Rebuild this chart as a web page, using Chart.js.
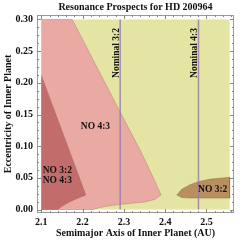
<!DOCTYPE html>
<html><head><meta charset="utf-8">
<script src="https://cdn.jsdelivr.net/npm/chart.js@4/dist/chart.umd.min.js"></script>
<style>html,body{margin:0;padding:0;background:#fff}canvas{display:block}</style>
</head><body><canvas id="c" width="249" height="241"></canvas>
<script>
// ---- data ----
const xTickLabels = [2.1, 2.2, 2.3, 2.4, 2.5];
const yTickLabels = [0, 0.05, 0.10, 0.15, 0.20, 0.25, 0.30];

// whole explored domain (stable-for-both background)
const domainX = [2.1, 2.556, 2.556, 2.1];
const domainY = [0.0, 0.0, 0.30, 0.30];

// "NO 4:3" region
const no43X = [2.1, 2.225, 2.242, 2.265, 2.291, 2.32, 2.351, 2.375, 2.39, 2.37, 2.34, 2.29, 2.175, 2.1];
const no43Y = [0.0, 0.0, 0.003, 0.006, 0.008, 0.010, 0.012, 0.016, 0.023, 0.052, 0.093, 0.155, 0.30, 0.30];

// "NO 3:2 / NO 4:3" region
const no32no43X = [2.1, 2.14, 2.15, 2.168, 2.19, 2.208, 2.1];
const no32no43Y = [0.0, 0.0, 0.005, 0.012, 0.018, 0.023, 0.212];

// "NO 3:2" region (lower right)
const no32X = [2.428, 2.44, 2.46, 2.48, 2.51, 2.556, 2.556, 2.46, 2.44, 2.428];
const no32Y = [0.023, 0.032, 0.039, 0.044, 0.048, 0.051, 0.018, 0.018, 0.019, 0.023];

// nominal resonance locations
const nominalA = [2.291, 2.4806];
const nominalNames = ["Nominal 3:2", "Nominal 4:3"];

const pts = (xs, ys) => xs.map((x, i) => ({x: x, y: ys[i]}));

const SERIF = '"Liberation Serif", "DejaVu Serif", serif';
const edge = 'rgba(140,80,70,0.35)';

const datasets = [
  {data: pts(domainX, domainY), backgroundColor: '#e4e4a3', borderColor: 'rgba(0,0,0,0)', order: 10},
  {data: pts(no43X, no43Y), backgroundColor: '#e8aaa3', borderColor: edge, order: 9},
  {data: pts(no32no43X, no32no43Y), backgroundColor: '#c26d6c', borderColor: edge, order: 8},
  {data: pts(no32X, no32Y), backgroundColor: '#b98f5f', borderColor: 'rgba(120,80,40,0.4)', order: 7}
].map(d => Object.assign({showLine: true, fill: 'shape', pointRadius: 0, borderWidth: 0.8, tension: 0}, d));

nominalA.forEach((a, i) => datasets.push({
  data: [{x: a, y: 0}, {x: a, y: 0.30}], showLine: true, fill: false, pointRadius: 0,
  borderColor: 'rgba(150,125,170,0.85)', borderWidth: 1.5, order: 1
}));

const labels = [
  {text: 'NO 4:3', x: 2.2312, y: 0.1307, align: 'center'},
  {text: 'NO 3:2', x: 2.1034, y: 0.0608, align: 'left'},
  {text: 'NO 4:3', x: 2.1034, y: 0.0458, align: 'left'},
  {text: 'NO 3:2', x: 2.515, y: 0.0308, align: 'center'}
];

const decor = {
  id: 'decor',
  afterDraw(chart) {
    const ctx = chart.ctx, xs = chart.scales.x, ys = chart.scales.y;
    const a = chart.chartArea;
    ctx.save();
    // region labels
    ctx.fillStyle = '#111';
    ctx.font = 'bold 9.5px ' + SERIF;
    ctx.textBaseline = 'middle';
    labels.forEach(l => {
      ctx.textAlign = l.align;
      ctx.fillText(l.text, xs.getPixelForValue(l.x), ys.getPixelForValue(l.y));
    });
    // nominal labels (rotated)
    nominalA.forEach((v, i) => {
      const px = xs.getPixelForValue(v) - 1;
      ctx.save();
      ctx.translate(px, ys.getPixelForValue(0.2865));
      ctx.rotate(-Math.PI / 2);
      ctx.textAlign = 'right';
      ctx.textBaseline = 'alphabetic';
      ctx.fillText(nominalNames[i], 0, 0);
      ctx.restore();
    });
    // frame
    ctx.strokeStyle = '#999';
    ctx.lineWidth = 1;
    ctx.strokeRect(a.left + 0.5, a.top + 0.5, a.right - a.left - 1, a.bottom - a.top - 1);
    // ticks (inward, all four sides)
    ctx.strokeStyle = '#888';
    ctx.beginPath();
    const xt = (v, len) => {
      const p = Math.round(xs.getPixelForValue(v)) + 0.5;
      ctx.moveTo(p, a.bottom); ctx.lineTo(p, a.bottom - len);
      ctx.moveTo(p, a.top); ctx.lineTo(p, a.top + len);
    };
    const yt = (v, len) => {
      const p = Math.round(ys.getPixelForValue(v)) + 0.5;
      ctx.moveTo(a.left, p); ctx.lineTo(a.left + len, p);
      ctx.moveTo(a.right, p); ctx.lineTo(a.right - len, p);
    };
    for (let k = 0; k <= 23; k++) { const v = 2.1 + k * 0.02; if (v <= xs.max) xt(v, k % 5 === 0 ? 4 : 2); }
    for (let k = 0; k <= 24; k++) { const v = k * 0.0125; yt(v, k % 4 === 0 ? 4 : 2); }
    ctx.stroke();
    // title
    ctx.fillStyle = '#111';
    ctx.font = 'bold 10px ' + SERIF;
    ctx.textAlign = 'center';
    ctx.textBaseline = 'alphabetic';
    ctx.fillText('Resonance Prospects for HD 200964', (a.left + a.right) / 2, 10);
    ctx.restore();
  }
};

const tickFont = {family: SERIF, size: 10, weight: 'bold'};

new Chart(document.getElementById('c'), {
  type: 'scatter',
  data: {datasets: datasets},
  options: {
    responsive: false, animation: false, devicePixelRatio: 1,
    layout: {padding: {top: 15, right: 15, left: 0, bottom: 0}},
    plugins: {legend: {display: false}, tooltip: {enabled: false}},
    scales: {
      x: {
        type: 'linear', min: 2.0896, max: 2.5666,
        grid: {display: false, drawTicks: false}, border: {display: false},
        ticks: {font: tickFont, color: '#111', padding: 3, autoSkip: false, maxRotation: 0,
                callback: v => Number(v).toFixed(1)},
        afterBuildTicks: s => { s.ticks = xTickLabels.map(v => ({value: v})); },
        afterFit: s => { s.height = 28; },
        title: {display: true, text: 'Semimajor Axis of Inner Planet (AU)', font: tickFont, color: '#111',
                padding: {top: 0, bottom: 2}}
      },
      y: {
        type: 'linear', min: -0.0055, max: 0.3071,
        grid: {display: false, drawTicks: false}, border: {display: false},
        ticks: {font: tickFont, color: '#111', padding: 4, autoSkip: false,
                callback: v => Number(v).toFixed(2)},
        afterBuildTicks: s => { s.ticks = yTickLabels.map(v => ({value: v})); },
        afterFit: s => { s.width = 37; },
        title: {display: true, text: 'Eccentricity of Inner Planet', font: tickFont, color: '#111',
                padding: {top: 2, bottom: 0}}
      }
    }
  },
  plugins: [decor]
});
</script>
</body></html>
